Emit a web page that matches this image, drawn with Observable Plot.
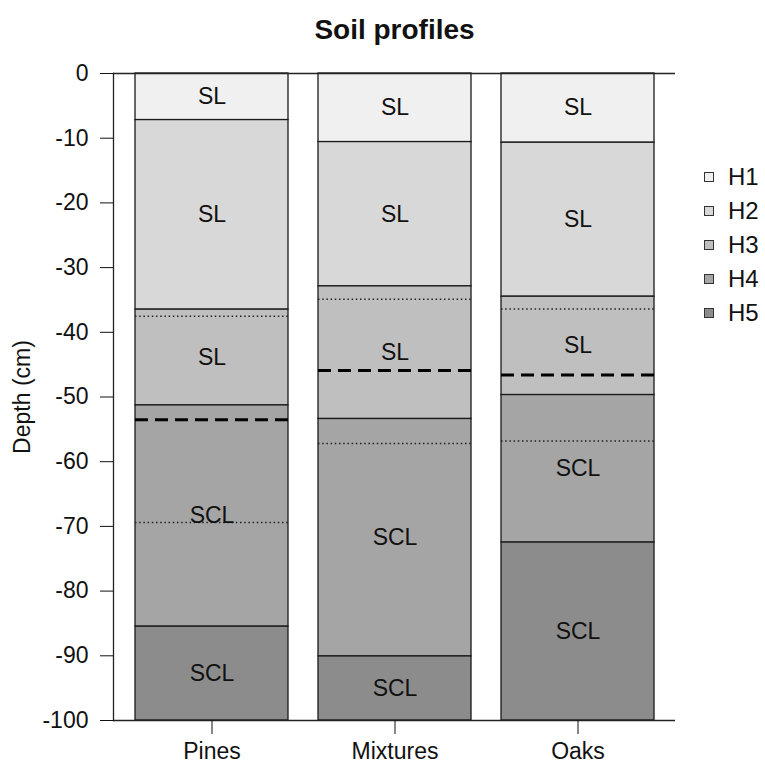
<!DOCTYPE html>
<html>
<head>
<meta charset="utf-8">
<script src="https://cdn.jsdelivr.net/npm/d3@7"></script>
<script src="https://cdn.jsdelivr.net/npm/@observablehq/plot@0.6"></script>
<style>
  body { margin: 0; background: #fff; }
  #wrap { position: relative; width: 765px; height: 767px; font-family: "Liberation Sans", Arial, Helvetica, sans-serif; }
  #wrap svg { position: absolute; left: 0; top: 0; }
  #legend { position: absolute; left: 704px; top: 160px; }
  .row { height: 34px; display: flex; align-items: center; font-size: 24px; color: #111; }
  .sw { width: 8px; height: 8px; border: 1px solid #333; margin-right: 14px; }
</style>
</head>
<body>
<div id="wrap"><div id="legend"></div></div>
<script>
const sites = ["Pines", "Mixtures", "Oaks"];
const horizons = ["H1", "H2", "H3", "H4", "H5"];
const horizonColors = ["#f0f0f0", "#d8d8d8", "#bfbfbf", "#a5a5a5", "#8c8c8c"];

// horizon boundaries (cm), from surface to bottom
const pinesDepths    = [0, -7.2, -36.5, -51.3, -85.5, -100];
const mixturesDepths = [0, -10.6, -32.9, -53.4, -90.1, -100];
const oaksDepths     = [0, -10.7, -34.5, -49.7, -72.5, -100];

// textures per horizon
const pinesTexture    = ["SL", "SL", "SL", "SCL", "SCL"];
const mixturesTexture = ["SL", "SL", "SL", "SCL", "SCL"];
const oaksTexture     = ["SL", "SL", "SL", "SCL", "SCL"];

// dashed line depths
const dashedDepths = [-53.5, -45.9, -46.6];
// dotted line depths
const pinesDotted    = [-37.5, -69.4];
const mixturesDotted = [-34.9, -57.2];
const oaksDotted     = [-36.4, -56.8];

const yTicks = [0, -10, -20, -30, -40, -50, -60, -70, -80, -90, -100];

const depthsBySite = [pinesDepths, mixturesDepths, oaksDepths];
const textureBySite = [pinesTexture, mixturesTexture, oaksTexture];
const dottedBySite = [pinesDotted, mixturesDotted, oaksDotted];

const layers = [];
sites.forEach((s, i) => {
  horizons.forEach((h, j) => {
    const top = depthsBySite[i][j], bottom = depthsBySite[i][j + 1];
    layers.push({site: s, horizon: h, top, bottom, mid: (top + bottom) / 2, texture: textureBySite[i][j]});
  });
});
const dashed = sites.map((s, i) => ({site: s, depth: dashedDepths[i]}));
const dotted = sites.flatMap((s, i) => dottedBySite[i].map(d => ({site: s, depth: d})));

const chart = Plot.plot({
  width: 765,
  height: 767,
  marginLeft: 113,
  marginRight: 90,
  marginTop: 73,
  marginBottom: 47,
  style: {fontFamily: "Liberation Sans, Arial, Helvetica, sans-serif", fontSize: "23px", color: "#111", background: "transparent"},
  x: {domain: sites, paddingInner: 0.2 / 1.2, paddingOuter: 0.136 / 1.2, label: null},
  y: {domain: [-100, 0], label: "Depth (cm)"},
  color: {domain: horizons, range: horizonColors},
  marks: [
    Plot.barY(layers, {x: "site", y1: "top", y2: "bottom", fill: "horizon", stroke: "#1a1a1a", strokeWidth: 1.3, inset: 0}),
    Plot.tickY(dotted, {x: "site", y: "depth", stroke: "#222", strokeWidth: 1.5, strokeDasharray: "1.5,2.7"}),
    Plot.tickY(dashed, {x: "site", y: "depth", stroke: "#000", strokeWidth: 3, strokeDasharray: "13,7"}),
    Plot.text(layers, {x: "site", y: "mid", text: "texture", fontSize: 23, fill: "#111"}),
    Plot.ruleY([0, -100], {stroke: "#222", strokeWidth: 1.3}),
    Plot.frame({anchor: "left", stroke: "#222", strokeWidth: 1.3}),
    Plot.axisY({ticks: yTicks, tickFormat: d => String(d), tickSize: 13, tickPadding: 12, fontSize: 23, label: "Depth (cm)", labelAnchor: "center", labelArrow: "none", labelOffset: 100}),
    Plot.axisX({tickSize: 14, tickPadding: 8, fontSize: 23, label: null}),
    Plot.text(["Soil profiles"], {frameAnchor: "top", lineAnchor: "middle", dy: -43, fontSize: 28, fontWeight: "bold", fill: "#111"})
  ]
});
document.getElementById("wrap").appendChild(chart);

const legend = document.getElementById("legend");
horizons.forEach((h, i) => {
  const row = document.createElement("div");
  row.className = "row";
  const sw = document.createElement("div");
  sw.className = "sw";
  sw.style.background = horizonColors[i];
  const t = document.createElement("span");
  t.textContent = h;
  row.appendChild(sw);
  row.appendChild(t);
  legend.appendChild(row);
});
</script>
</body>
</html>
